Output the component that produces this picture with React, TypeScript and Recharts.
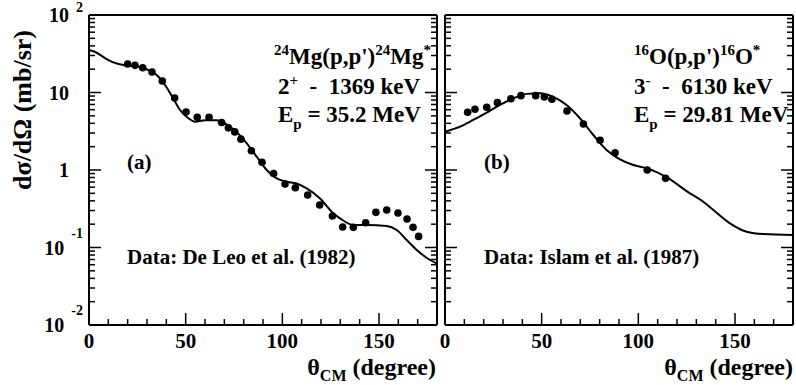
import React from 'react';
import { ComposedChart, Line, Scatter, XAxis, YAxis } from 'recharts';

// angle ticks (degree)
const xTicks = [0, 10, 20, 30, 40, 50, 60, 70, 80, 90, 100, 110, 120, 130, 140, 150, 160, 170, 180];
const xMajor = [0, 50, 100, 150];

// cross-section ticks (mb/sr), log axis
const yTicks = [
  0.01, 0.02, 0.03, 0.04, 0.05, 0.06, 0.07, 0.08, 0.09,
  0.1, 0.2, 0.3, 0.4, 0.5, 0.6, 0.7, 0.8, 0.9,
  1, 2, 3, 4, 5, 6, 7, 8, 9,
  10, 20, 30, 40, 50, 60, 70, 80, 90, 100,
];
const yMajor = [0.01, 0.1, 1, 10, 100];
const yLabelBase: Record<number, string> = { 100: '10', 10: '10', 1: '1', 0.1: '10', 0.01: '10' };
const yLabelExp: Record<number, string> = { 100: '2', 0.1: '-1', 0.01: '-2' };

// (a) 24Mg(p,p') data, De Leo et al.
const mgPointAngle = [20.0, 23.8, 27.8, 32.6, 37.9, 44.3, 50.2, 56.0, 62.1, 68.6, 72.1, 75.4, 78.6, 84.0, 89.5, 95.5, 101.4, 106.7, 113.1, 119.3, 125.9, 131.2, 136.7, 143.1, 148.4, 154.0, 159.8, 164.5, 167.6, 170.5];
const mgPointValue = [23.3, 22.4, 20.9, 18.4, 14.1, 8.5, 5.6, 4.8, 4.8, 4.1, 3.5, 3.1, 2.5, 1.77, 1.26, 0.9, 0.66, 0.59, 0.475, 0.353, 0.255, 0.184, 0.182, 0.209, 0.284, 0.305, 0.279, 0.233, 0.182, 0.139];

// (a) calculation
const mgCurveAngle = [0, 3, 8, 13, 18.5, 25.5, 30.7, 35, 39.3, 43.1, 47.1, 51.4, 54.8, 60, 66, 70.3, 75, 81.6, 86.7, 91.9, 97.1, 102.3, 107.4, 112.6, 119.5, 126.4, 129.8, 136.7, 143.6, 154, 159.2, 164.3, 169.5, 176.4, 180];
const mgCurveValue = [35.5, 33.6, 28.1, 24.3, 22.4, 21.5, 19.5, 16.8, 12.5, 8.8, 5.95, 4.65, 4.2, 4.4, 4.4, 4.0, 3.3, 2.21, 1.49, 1.0, 0.78, 0.707, 0.67, 0.58, 0.43, 0.276, 0.238, 0.195, 0.195, 0.19, 0.168, 0.125, 0.093, 0.069, 0.062];

// (b) 16O(p,p') data, Islam et al.
const oPointAngle = [11.7, 15.5, 21.6, 27.1, 34.1, 39.3, 46.9, 51.4, 55.3, 63.1, 71.6, 80.2, 88.0, 104.6, 114.1];
const oPointValue = [5.55, 6.07, 6.44, 7.4, 8.3, 9.1, 9.1, 8.75, 8.2, 5.77, 3.92, 2.42, 1.67, 1.0, 0.78];

// (b) calculation
const oCurveAngle = [0, 7.8, 14.6, 21.6, 28.4, 35.3, 42.3, 49.1, 56, 62.9, 69.8, 76.7, 83.6, 90.5, 97.4, 104.6, 114.1, 126.7, 133.6, 138.8, 147.4, 156, 164.7, 180];
const oCurveValue = [3.12, 3.62, 4.42, 5.49, 6.9, 8.4, 9.6, 9.8, 8.8, 6.9, 4.65, 2.83, 1.81, 1.37, 1.16, 1.05, 0.82, 0.5, 0.39, 0.305, 0.205, 0.16, 0.149, 0.145];

const zip = (xs: number[], ys: number[]) => xs.map((x, i) => ({ x, y: ys[i] }));

const FONT = '"Liberation Serif", "Times New Roman", serif';

const BottomTick = (props: any) => {
  const { x, y, payload, showLabel } = props;
  const major = xMajor.includes(payload.value);
  return (
    <g>
      <line x1={x} x2={x} y1={y} y2={y - (major ? 12 : 6)} stroke="#000" strokeWidth={1.5} />
      {major && showLabel && (
        <text x={x} y={y + 23} textAnchor="middle" fontFamily={FONT} fontWeight="bold" fontSize={21} fill="#000">
          {payload.value}
        </text>
      )}
    </g>
  );
};

const TopTick = (props: any) => {
  const { x, y, payload } = props;
  const major = xMajor.includes(payload.value);
  return <line x1={x} x2={x} y1={y} y2={y + (major ? 12 : 6)} stroke="#000" strokeWidth={1.5} />;
};

const LeftTick = (props: any) => {
  const { x, y, payload, showLabel } = props;
  const v = payload.value;
  const major = yMajor.includes(v);
  const exp = yLabelExp[v];
  const base = y + 7;
  const expBase = Math.max(y - 10, 12);
  return (
    <g>
      <line x1={x} x2={x + (major ? 12 : 6)} y1={y} y2={y} stroke="#000" strokeWidth={1.5} />
      {major && showLabel && (
        <text x={exp ? x - 6 : x - 20} y={base} textAnchor="end" fontFamily={FONT} fontWeight="bold" fontSize={20} fill="#000">
          {yLabelBase[v]}
          {exp && (
            <tspan dx={7} dy={expBase - base} fontSize={14}>
              {exp}
            </tspan>
          )}
        </text>
      )}
    </g>
  );
};

const RightTick = (props: any) => {
  const { x, y, payload } = props;
  const major = yMajor.includes(payload.value);
  return <line x1={x} x2={x - (major ? 12 : 6)} y1={y} y2={y} stroke="#000" strokeWidth={1.5} />;
};

const Dot = (props: any) => <circle cx={props.cx} cy={props.cy} r={3.8} fill="#000" />;

interface PanelProps {
  curve: { x: number; y: number }[];
  points: { x: number; y: number }[];
  width: number;
  leftWidth: number;
  marginLeft: number;
  showYLabels: boolean;
}

function Panel({ curve, points, width, leftWidth, marginLeft, showYLabels }: PanelProps) {
  return (
    <ComposedChart width={width} height={385} margin={{ top: 10, right: 0, bottom: 30, left: marginLeft }}>
      <XAxis
        xAxisId="b"
        dataKey="x"
        type="number"
        domain={[0, 180]}
        ticks={xTicks}
        interval={0}
        allowDataOverflow
        height={30}
        tickSize={0}
        tickMargin={0}
        axisLine={{ stroke: '#000', strokeWidth: 2 }}
        tick={<BottomTick showLabel />}
      />
      <XAxis
        xAxisId="t"
        orientation="top"
        type="number"
        domain={[0, 180]}
        ticks={xTicks}
        interval={0}
        allowDataOverflow
        height={5}
        tickSize={0}
        tickMargin={0}
        axisLine={{ stroke: '#000', strokeWidth: 2 }}
        tick={<TopTick />}
      />
      <YAxis
        yAxisId="l"
        type="number"
        scale="log"
        domain={[0.01, 100]}
        ticks={yTicks}
        interval={0}
        allowDataOverflow
        width={leftWidth}
        tickSize={0}
        tickMargin={0}
        axisLine={{ stroke: '#000', strokeWidth: 2 }}
        tick={<LeftTick showLabel={showYLabels} />}
      />
      <YAxis
        yAxisId="r"
        orientation="right"
        type="number"
        scale="log"
        domain={[0.01, 100]}
        ticks={yTicks}
        interval={0}
        allowDataOverflow
        width={3}
        tickSize={0}
        tickMargin={0}
        axisLine={{ stroke: '#000', strokeWidth: 2 }}
        tick={<RightTick />}
      />
      <Line
        xAxisId="b"
        yAxisId="l"
        data={curve}
        dataKey="y"
        type="monotone"
        stroke="#000"
        strokeWidth={2}
        dot={false}
        isAnimationActive={false}
      />
      <Scatter xAxisId="b" yAxisId="l" data={points} dataKey="y" shape={<Dot />} isAnimationActive={false} />
    </ComposedChart>
  );
}

const textStyle = { fontFamily: FONT, fontWeight: 'bold' as const, fill: '#000' };
const NB = '\u00a0';

export default function App() {
  return (
    <div style={{ position: 'absolute', left: 0, top: 0, width: 796, height: 385, background: '#fff' }}>
      <div style={{ position: 'absolute', left: 0, top: 0 }}>
        <Panel curve={zip(mgCurveAngle, mgCurveValue)} points={zip(mgPointAngle, mgPointValue)} width={440} leftWidth={60} marginLeft={29} showYLabels />
      </div>
      <div style={{ position: 'absolute', left: 440, top: 0 }}>
        <Panel curve={zip(oCurveAngle, oCurveValue)} points={zip(oPointAngle, oPointValue)} width={356} leftWidth={5} marginLeft={0} showYLabels={false} />
      </div>
      <svg width={796} height={385} style={{ position: 'absolute', left: 0, top: 0, pointerEvents: 'none' }}>
        <g {...textStyle}>
          <text transform="translate(31,110) rotate(-90)" textAnchor="middle" fontSize={26}>
            dσ/dΩ (mb/sr)
          </text>

          <text x={436} y={375} textAnchor="end" fontSize={24}>
            θ<tspan dy={6} fontSize={16}>CM</tspan>
            <tspan dy={-6}> (degree)</tspan>
          </text>
          <text x={793} y={375} textAnchor="end" fontSize={24}>
            θ<tspan dy={6} fontSize={16}>CM</tspan>
            <tspan dy={-6}> (degree)</tspan>
          </text>

          <text x={431} y={64} textAnchor="end" fontSize={23}>
            <tspan dy={-9} fontSize={15}>24</tspan>
            <tspan dy={9}>Mg(p,p')</tspan>
            <tspan dy={-9} fontSize={15}>24</tspan>
            <tspan dy={9}>Mg</tspan>
            <tspan dy={-9} fontSize={15}>*</tspan>
          </text>
          <text x={278} y={94} fontSize={23}>
            2<tspan dy={-9} fontSize={15}>+</tspan>
            <tspan dy={9}>{`${NB}${NB}-${NB}${NB}1369 keV`}</tspan>
          </text>
          <text x={278} y={122} fontSize={23}>
            E<tspan dy={7} fontSize={15}>p</tspan>
            <tspan dy={-7}> = 35.2 MeV</tspan>
          </text>
          <text x={127} y={169} fontSize={21}>(a)</text>
          <text x={127} y={264} fontSize={21}>Data: De Leo et al. (1982)</text>

          <text x={634} y={64} fontSize={23}>
            <tspan dy={-9} fontSize={15}>16</tspan>
            <tspan dy={9}>O(p,p')</tspan>
            <tspan dy={-9} fontSize={15}>16</tspan>
            <tspan dy={9}>O</tspan>
            <tspan dy={-9} fontSize={15}>*</tspan>
          </text>
          <text x={634} y={94} fontSize={23}>
            3<tspan dy={-9} fontSize={15}>-</tspan>
            <tspan dy={9}>{`${NB}${NB}-${NB}${NB}6130 keV`}</tspan>
          </text>
          <text x={634} y={122} fontSize={23}>
            E<tspan dy={7} fontSize={15}>p</tspan>
            <tspan dy={-7}> = 29.81 MeV</tspan>
          </text>
          <text x={484} y={169} fontSize={21}>(b)</text>
          <text x={484} y={264} fontSize={21}>Data: Islam et al. (1987)</text>
        </g>
      </svg>
    </div>
  );
}
